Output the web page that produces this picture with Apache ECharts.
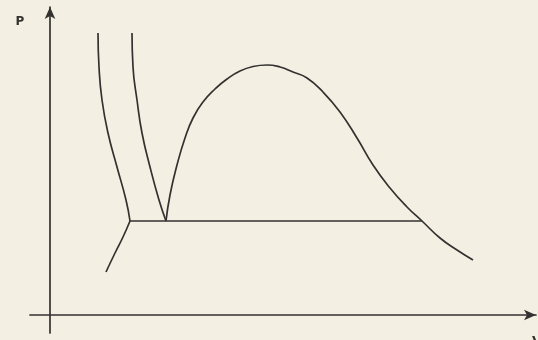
<!DOCTYPE html>
<html>
<head>
<meta charset="utf-8">
<script src="https://cdn.jsdelivr.net/npm/echarts@6/dist/echarts.min.js"></script>
<style>
    html, body { margin: 0; padding: 0; background: #f3efe2; }
    #main { width: 538px; height: 340px; }
</style>
</head>
<body>
<div id="main"></div>
<script>
// curves, [V, P] in arbitrary units
var leftSteep = [[4.8, 28.2], [4.9, 24.8], [5.2, 21.5], [5.8, 18.2], [6.7, 14.8], [7.6, 11.5], [8.0, 9.4]];
var secondSteep = [[8.2, 28.2], [8.3, 24.8], [8.7, 21.5], [9.2, 18.2], [10.0, 14.8], [10.9, 11.5], [11.6, 9.4]];
var lowerBranch = [[8.0, 9.4], [7.3, 7.8], [6.5, 6.2], [5.6, 4.3]];
var tieLine = [[8.0, 9.4], [37.2, 9.4]];
var dome = [
    [11.6, 9.4], [12.0, 12.0], [12.7, 15.0], [13.5, 17.7], [14.3, 19.7], [15.3, 21.3],
    [16.5, 22.6], [17.7, 23.6], [19.0, 24.4], [20.3, 24.85], [21.7, 25.0], [23.0, 24.8],
    [24.3, 24.3], [25.7, 23.7], [27.3, 22.3], [29.0, 20.3], [30.7, 17.7], [32.3, 15.0],
    [34.0, 12.7], [35.7, 10.8], [37.2, 9.4], [39.0, 7.7], [40.7, 6.5], [42.3, 5.5]
];

var inkColor = '#333230';

function curve(name, data, smooth)
{
    return {
        name: name,
        type: 'line',
        data: data,
        smooth: smooth,
        showSymbol: false,
        silent: true,
        lineStyle: { color: inkColor, width: 1.7 }
    };
}

document.addEventListener("DOMContentLoaded", function()
{
    var chartDom = document.getElementById('main');
    var myChart = echarts.init(chartDom, null, { renderer: 'canvas' });

    var axisLine = {
        onZero: true,
        symbol: ['none', 'arrow'],
        symbolSize: [8, 12],
        lineStyle: { color: inkColor, width: 1.7 }
    };

    var option = {
        backgroundColor: '#f3efe2',
        animation: false,
        grid: {
            left: 30,
            right: 2,
            top: 7,
            bottom: 7,
            outerBoundsMode: 'none'
        },
        xAxis: {
            type: 'value',
            min: -2,
            max: 48.6,
            name: 'V',
            nameLocation: 'end',
            nameGap: -4,
            nameTextStyle: {
                fontFamily: 'DejaVu Sans',
                fontWeight: 'bold',
                fontSize: 13,
                color: inkColor,
                verticalAlign: 'top',
                padding: [20, 0, 0, 0]
            },
            axisLine: axisLine,
            axisTick: { show: false },
            axisLabel: { show: false },
            splitLine: { show: false }
        },
        yAxis: {
            type: 'value',
            min: -1.8,
            max: 30.8,
            name: 'P',
            nameLocation: 'end',
            nameGap: -15,
            nameTextStyle: {
                fontFamily: 'DejaVu Sans',
                fontWeight: 'bold',
                fontSize: 12,
                color: inkColor,
                align: 'center',
                verticalAlign: 'middle',
                padding: [0, 60, 0, 0]
            },
            axisLine: axisLine,
            axisTick: { show: false },
            axisLabel: { show: false },
            splitLine: { show: false }
        },
        series: [
            curve('leftSteep', leftSteep, 0.5),
            curve('secondSteep', secondSteep, 0.5),
            curve('lowerBranch', lowerBranch, 0.5),
            curve('tieLine', tieLine, false),
            curve('dome', dome, 0.5)
        ]
    };

    myChart.setOption(option);
});
</script>
</body>
</html>
